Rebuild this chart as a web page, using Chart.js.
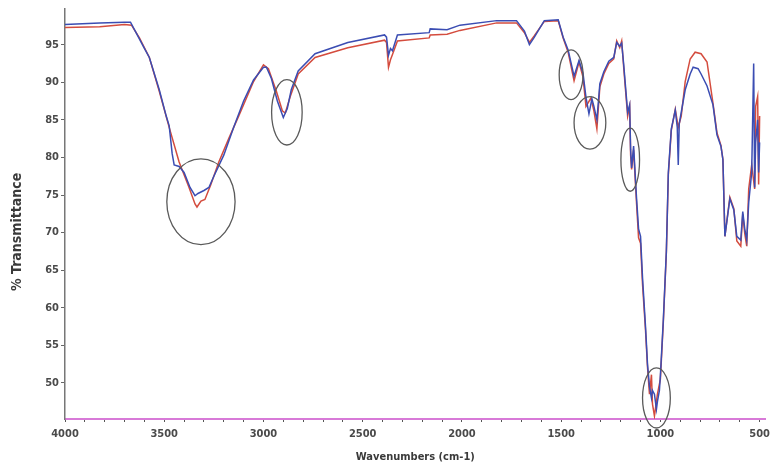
<!DOCTYPE html>
<html>
<head>
<meta charset="utf-8">
<script src="https://cdn.jsdelivr.net/npm/chart.js@4"></script>
<style>
html,body{margin:0;padding:0;background:#fff;}
#wrap{width:776px;height:470px;}
</style>
</head>
<body>
<div id="wrap"><canvas id="c" width="776" height="470"></canvas></div>
<script>
// ---- data (wavenumber cm-1, % transmittance) ----
const wnRed = [4000,3825,3700,3665,3625,3575,3525,3475,3425,3375,3345,3335,3315,3295,3265,3225,3175,3125,3050,3000,2975,2935,2905,2890,2865,2825,2740,2575,2390,2380,2370,2360,2350,2325,2165,2160,2075,2010,1825,1725,1685,1660,1635,1585,1515,1490,1465,1435,1410,1390,1375,1350,1335,1320,1305,1285,1260,1235,1220,1205,1195,1185,1165,1155,1150,1145,1135,1120,1110,1100,1090,1075,1065,1055,1045,1040,1030,1015,1000,985,970,960,945,925,910,895,875,850,825,795,765,735,715,695,685,675,650,630,615,595,585,575,565,555,540,525,520,510,505,500];
const tRed = [97.3,97.4,97.7,97.6,95.9,93.3,88.8,84.0,79.4,76.0,73.8,73.4,74.2,74.4,76.4,79.4,82.5,85.5,90.1,92.3,91.8,88.8,86.2,85.9,88.1,91.1,93.3,94.6,95.6,95.3,92.0,93.0,93.7,95.5,95.9,96.3,96.4,96.9,97.9,97.9,96.6,95.3,96.2,98.1,98.2,95.9,94.0,90.2,92.7,90.7,86.8,87.9,86.2,83.8,89.4,91.1,92.5,93.1,95.5,94.6,95.5,92.0,85.5,86.8,80.3,78.4,81.0,73.8,69.3,68.6,63.1,57.0,52.1,48.5,51.1,47.2,45.6,48.5,50.5,58.2,67.3,77.7,83.6,86.4,84.0,85.5,90.1,93.1,94.0,93.8,92.7,87.2,83.3,81.6,79.7,69.5,74.7,73.2,68.9,68.2,72.5,69.9,68.2,75.8,79.0,75.8,86.8,88.1,76.4,85.5];
const wnBlue = [4000,3825,3700,3670,3640,3600,3575,3525,3490,3475,3460,3450,3425,3400,3370,3345,3330,3300,3275,3250,3200,3150,3100,3050,3000,2985,2960,2930,2900,2880,2860,2825,2740,2575,2390,2380,2370,2360,2350,2325,2165,2160,2075,2010,1825,1725,1685,1660,1635,1585,1515,1490,1465,1435,1410,1390,1375,1360,1345,1335,1320,1305,1285,1260,1235,1220,1205,1195,1185,1165,1155,1150,1145,1135,1120,1110,1100,1090,1075,1065,1055,1045,1040,1030,1020,1015,1005,1000,985,970,960,945,925,915,910,905,895,875,850,835,810,795,765,735,715,695,685,675,650,630,615,595,585,575,565,555,540,530,525,520,510,505,500];
const tBlue = [97.7,97.9,98.0,98.0,96.5,94.5,93.3,89.0,85.5,84.2,80.5,79.0,78.8,78.0,76.0,74.9,75.2,75.6,76.0,77.5,80.3,84.0,87.5,90.3,92.0,92.0,90.5,87.5,85.3,86.5,89.0,91.5,93.8,95.3,96.3,96.0,93.6,94.5,94.2,96.3,96.6,97.1,97.0,97.6,98.2,98.2,96.8,95.0,96.0,98.2,98.3,96.0,94.3,90.8,92.9,91.2,88.0,85.8,87.8,86.8,85.0,89.8,91.4,92.8,93.3,95.3,94.8,95.2,92.4,86.0,87.0,81.0,78.6,81.5,74.5,70.5,69.5,64.0,57.5,52.5,49.5,48.0,49.0,48.5,46.5,47.5,49.0,51.0,58.5,67.5,78.0,83.8,86.3,84.0,79.0,84.5,86.0,89.0,91.1,92.0,91.8,91.1,89.5,87.0,83.0,81.5,79.7,69.5,74.5,73.0,69.5,69.0,72.8,70.5,69.0,74.0,78.0,92.5,76.0,82.0,85.0,78.0,82.0];
const yTickValues = [50,55,60,65,70,75,80,85,90,95];
const xTickLabels = [4000,3500,3000,2500,2000,1500,1000,500];
// highlighted bands: centre wavenumber, centre %T, half-width (cm-1), half-height (%T)
const circleWn = [3315,2882,1450,1355,1152,1020];
const circleT = [74.1,86.0,91.0,84.6,79.7,48.0];
const circleRx = [172,77,60,80,47,70];
const circleRy = [5.7,4.35,3.3,3.5,4.2,4.0];
const yTitle = '% Transmittance';

const pts = (xs, ys) => xs.map((x, i) => ({x: x, y: ys[i]}));

const circlePlugin = {
  id: 'circles',
  afterDatasetsDraw(chart) {
    const {ctx, scales} = chart;
    const xs = scales.x, ys = scales.y;
    ctx.save();
    ctx.strokeStyle = '#5a5a5a';
    ctx.lineWidth = 1.3;
    for (let i = 0; i < circleWn.length; i++) {
      const cx = xs.getPixelForValue(circleWn[i]);
      const cy = ys.getPixelForValue(circleT[i]);
      const rx = Math.abs(xs.getPixelForValue(circleWn[i] + circleRx[i]) - cx);
      const ry = Math.abs(ys.getPixelForValue(circleT[i] + circleRy[i]) - cy);
      ctx.beginPath();
      ctx.ellipse(cx, cy, rx, ry, 0, 0, Math.PI * 2);
      ctx.stroke();
    }
    ctx.restore();
  }
};

// y-axis title drawn as canvas text, placed a little below the axis middle as in the source figure
const yTitlePlugin = {
  id: 'ytitle',
  afterDraw(chart) {
    const ctx = chart.ctx;
    const a = chart.chartArea;
    ctx.save();
    ctx.translate(17, (a.top + a.bottom) / 2 + 18);
    ctx.rotate(-Math.PI / 2);
    ctx.font = 'bold 14px "DejaVu Sans Condensed", "DejaVu Sans", sans-serif';
    ctx.fillStyle = '#3a3a3a';
    ctx.textAlign = 'center';
    ctx.textBaseline = 'middle';
    ctx.fillText(yTitle, 0, 0);
    ctx.restore();
  }
};

const tickFont = {family: '"DejaVu Sans Condensed", "DejaVu Sans", sans-serif', size: 11, weight: 'bold'};

new Chart(document.getElementById('c'), {
  type: 'line',
  data: {
    datasets: [
      {label: 'blue', data: pts(wnBlue, tBlue), borderColor: '#3b4db3', borderWidth: 1.5, pointRadius: 0, tension: 0},
      {label: 'red', data: pts(wnRed, tRed), borderColor: '#d44c3e', borderWidth: 1.5, pointRadius: 0, tension: 0}
    ]
  },
  options: {
    responsive: false,
    animation: false,
    devicePixelRatio: 1,
    layout: {padding: {left: 0, right: 5, top: 0, bottom: 6}},
    plugins: {legend: {display: false}, tooltip: {enabled: false}},
    scales: {
      x: {
        type: 'linear',
        reverse: true,
        min: 470,
        max: 4000,
        afterBuildTicks(axis) {
          const t = [];
          for (let v = 4000; v >= 500; v -= 100) t.push({value: v});
          axis.ticks = t;
        },
        afterFit(axis) { axis.height = 45; },
        ticks: {
          autoSkip: false,
          maxRotation: 0,
          padding: 6,
          color: '#4a4a4a',
          font: tickFont,
          callback: (v) => xTickLabels.includes(v) ? String(v) : ''
        },
        border: {display: true, color: '#d87ad8', width: 2},
        grid: {drawOnChartArea: false, drawTicks: true, tickLength: 3, color: '#555'},
        title: {display: true, text: 'Wavenumbers (cm-1)', color: '#3a3a3a', font: tickFont, padding: {top: 0, bottom: 0}}
      },
      y: {
        type: 'linear',
        min: 45.2,
        max: 99.8,
        afterBuildTicks(axis) { axis.ticks = yTickValues.map(v => ({value: v})); },
        afterFit(axis) { axis.width = 65; },
        ticks: {color: '#4a4a4a', font: tickFont, padding: 2},
        border: {display: true, color: '#777', width: 1.5, dash: [1.5, 3]},
        grid: {drawOnChartArea: false, drawTicks: true, tickLength: 4, color: '#666'},
        title: {display: false}
      }
    }
  },
  plugins: [circlePlugin, yTitlePlugin]
});
</script>
</body>
</html>
